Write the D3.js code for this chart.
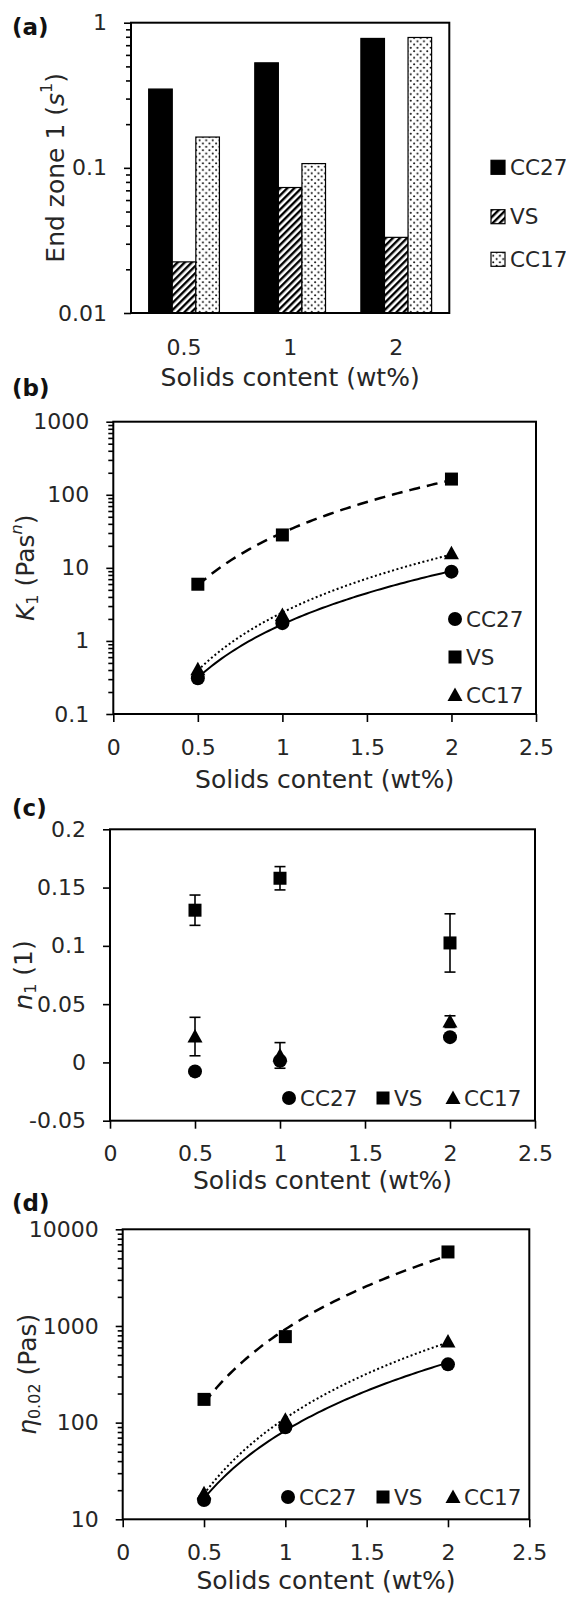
<!DOCTYPE html>
<html>
<head>
<meta charset="utf-8">
<script src="https://cdn.jsdelivr.net/npm/d3@7"></script>
<style>
  body { margin: 0; background: #fff; }
  svg { display: block; font-family: 'DejaVu Sans', sans-serif; }
</style>
</head>
<body>
<script>
// ---- data ----
var solids = [0.5, 1, 2];
var catLabels = ['0.5', '1', '2'];
var seriesNames = ['CC27', 'VS', 'CC17'];

// (a) end zone 1, s^-1
var endZoneCC27 = [0.349, 0.529, 0.779];
var endZoneVS = [0.0225, 0.0732, 0.0332];
var endZoneCC17 = [0.163, 0.107, 0.791];

// (b) K1
var k1CC27 = [0.309, 1.75, 8.87];
var k1VS = [5.97, 28.2, 164];
var k1CC17 = [0.41, 2.27, 15.8];

// (c) n1 with error bars
var n1CC27 = [-0.0077, 0.0014, 0.0217];
var n1VS = [0.1306, 0.158, 0.1025];
var n1VSErr = [0.013, 0.010, 0.025];
var n1CC17 = [0.0222, 0.006, 0.035];
var n1CC17Err = [0.0165, 0.011, 0.005];

// (d) eta 0.02
var etaCC27 = [15.8, 89.6, 401];
var etaVS = [174, 776, 5830];
var etaCC17 = [18.6, 107, 689];

// tick values
var endZoneTicks = [0.01, 0.1, 1];
var k1Ticks = [0.1, 1, 10, 100, 1000];
var n1Ticks = [-0.05, 0, 0.05, 0.1, 0.15, 0.2];
var etaTicks = [10, 100, 1000, 10000];
var xTicks = [0, 0.5, 1, 1.5, 2, 2.5];

var W = 566, H = 1598;
var tickFont = 22, titleFont = 25, legendFont = 21.5;
var textCol = '#262626';

var svg = d3.select('body').append('svg')
	.attr('width', W)
	.attr('height', H);

// patterns for the bars
var defs = svg.append('defs');
var hatch = defs.append('pattern')
	.attr('id', 'hatch')
	.attr('patternUnits', 'userSpaceOnUse')
	.attr('width', 5).attr('height', 5)
	.attr('patternTransform', 'rotate(45)');
hatch.append('rect').attr('width', 5).attr('height', 5).attr('fill', '#fff');
hatch.append('rect').attr('width', 2.4).attr('height', 5).attr('fill', '#000');

var dots = defs.append('pattern')
	.attr('id', 'dots')
	.attr('patternUnits', 'userSpaceOnUse')
	.attr('width', 6.6).attr('height', 6.6);
dots.append('rect').attr('width', 6.6).attr('height', 6.6).attr('fill', '#fff');
dots.append('circle').attr('cx', 1.6).attr('cy', 1.6).attr('r', 1).attr('fill', '#000');
dots.append('circle').attr('cx', 4.9).attr('cy', 4.9).attr('r', 1).attr('fill', '#000');

var seriesFill = { CC27: '#000', VS: 'url(#hatch)', CC17: 'url(#dots)' };

/* minor ticks of a log axis: 2..9 in every decade */
function logMinor(lo, hi) {
	var out = [];
	for (var e = Math.log10(lo); e < Math.log10(hi); e++) {
		for (var k = 2; k <= 9; k++) out.push(k * Math.pow(10, e));
	}
	return out;
}

function styleAxis(g) {
	g.select('.domain').remove();
	g.selectAll('line').attr('stroke', '#000').attr('stroke-width', 1.6);
	g.selectAll('text').attr('font-size', tickFont).attr('fill', textCol)
		.attr('font-family', "'DejaVu Sans', sans-serif");
}

function frame(p) {
	svg.append('rect')
		.attr('x', p.left).attr('y', p.top)
		.attr('width', p.right - p.left).attr('height', p.bottom - p.top)
		.attr('fill', 'none').attr('stroke', '#000').attr('stroke-width', 2);
}

function panelLabel(txt, y) {
	svg.append('text')
		.attr('x', 12).attr('y', y)
		.attr('dominant-baseline', 'central')
		.attr('font-size', 23).attr('font-weight', 'bold')
		.attr('fill', '#111')
		.text(txt);
}

function xTitle(p, y) {
	svg.append('text')
		.attr('x', (p.left + p.right) / 2).attr('y', y)
		.attr('text-anchor', 'middle').attr('dominant-baseline', 'central')
		.attr('font-size', titleFont).attr('fill', textCol)
		.text('Solids content (wt%)');
}

// rotated y title built from pieces: [text, italic, shift]
function yTitle(x, y, parts) {
	var t = svg.append('text')
		.attr('transform', 'translate(' + x + ',' + y + ') rotate(-90)')
		.attr('text-anchor', 'middle').attr('dominant-baseline', 'central')
		.attr('font-size', titleFont).attr('fill', textCol);
	var prevShift = 0;
	parts.forEach(function(pt) {
		var shift = pt.shift || 0;
		t.append('tspan')
			.attr('dy', (shift - prevShift) + 'px')
			.attr('font-style', pt.italic ? 'italic' : null)
			.attr('font-size', shift !== 0 ? 16 : null)
			.text(pt.t);
		prevShift = shift;
	});
}

function marker(g, shape, cx, cy) {
	if (shape === 'circle') {
		g.append('circle').attr('cx', cx).attr('cy', cy).attr('r', 7).attr('fill', '#000');
	} else if (shape === 'square') {
		g.append('rect').attr('x', cx - 6.5).attr('y', cy - 6.5)
			.attr('width', 13).attr('height', 13).attr('fill', '#000');
	} else {
		g.append('path')
			.attr('d', 'M' + cx + ',' + (cy - 7.5) + 'L' + (cx + 7.5) + ',' + (cy + 6) + 'L' + (cx - 7.5) + ',' + (cy + 6) + 'Z')
			.attr('fill', '#000');
	}
}

/* Excel style power trendline, fitted in log-log space */
function powerFit(xs, ys) {
	var lx = xs.map(Math.log), ly = ys.map(Math.log);
	var mx = d3.mean(lx), my = d3.mean(ly);
	var b = d3.sum(lx, function(v, i) { return (v - mx) * (ly[i] - my); }) /
		d3.sum(lx, function(v) { return (v - mx) * (v - mx); });
	var a = Math.exp(my - b * mx);
	return function(x) { return a * Math.pow(x, b); };
}

var lineStyles = {
	CC27: { dash: null, width: 2 },
	VS: { dash: '11,7', width: 2.5 },
	CC17: { dash: '2,2.5', width: 2 }
};
var shapes = { CC27: 'circle', VS: 'square', CC17: 'triangle' };

function xAxisBottom(p, x) {
	var g = svg.append('g')
		.attr('transform', 'translate(0,' + p.bottom + ')')
		.call(d3.axisBottom(x).tickValues(xTicks).tickSize(8).tickFormat(d3.format('')));
	styleAxis(g);
	g.selectAll('text').attr('y', 33).attr('dy', '0.35em');
}

function yAxisLog(p, y, majors, minors, fmt) {
	var gMinor = svg.append('g')
		.attr('transform', 'translate(' + p.left + ',0)')
		.call(d3.axisLeft(y).tickValues(minors).tickSize(5).tickFormat(''));
	styleAxis(gMinor);
	var g = svg.append('g')
		.attr('transform', 'translate(' + p.left + ',0)')
		.call(d3.axisLeft(y).tickValues(majors).tickSize(7).tickPadding(17).tickFormat(fmt));
	styleAxis(g);
}

function scatterPanel(p, x, y, data, withTrend) {
	if (withTrend) {
		seriesNames.forEach(function(s) {
			var f = powerFit(solids, data[s]);
			var pts = d3.range(0.5, 2.0001, 0.02);
			svg.append('path')
				.datum(pts)
				.attr('d', d3.line().x(function(d) { return x(d); }).y(function(d) { return y(f(d)); }))
				.attr('fill', 'none').attr('stroke', '#000')
				.attr('stroke-width', lineStyles[s].width)
				.attr('stroke-dasharray', lineStyles[s].dash);
		});
	}
	var g = svg.append('g');
	seriesNames.forEach(function(s) {
		data[s].forEach(function(v, i) {
			marker(g, shapes[s], x(solids[i]), y(v));
		});
	});
}

function rowLegend(y, xs) {
	var g = svg.append('g');
	seriesNames.forEach(function(s, i) {
		marker(g, shapes[s], xs[i], y);
		g.append('text')
			.attr('x', xs[i] + 11).attr('y', y)
			.attr('dominant-baseline', 'central')
			.attr('font-size', legendFont).attr('fill', textCol)
			.text(s);
	});
}

////////// (a) bar chart ////////
var pA = { left: 131, right: 449.3, top: 22.7, bottom: 313 };
var yA = d3.scaleLog().domain([0.01, 1]).range([pA.bottom, pA.top]);
var x0A = d3.scaleBand().domain(catLabels).range([pA.left, pA.right]);
var x1A = d3.scaleBand().domain(seriesNames).range([0, x0A.bandwidth()])
	.paddingInner(0).paddingOuter(0.75);
var endZone = { CC27: endZoneCC27, VS: endZoneVS, CC17: endZoneCC17 };

seriesNames.forEach(function(s) {
	svg.append('g').selectAll('rect')
		.data(endZone[s])
		.enter().append('rect')
		.attr('x', function(d, i) { return x0A(catLabels[i]) + x1A(s); })
		.attr('y', function(d) { return yA(d); })
		.attr('width', x1A.bandwidth())
		.attr('height', function(d) { return yA(0.01) - yA(d); })
		.attr('fill', seriesFill[s])
		.attr('stroke', '#000').attr('stroke-width', 1.2);
});
yAxisLog(pA, yA, endZoneTicks, logMinor(0.01, 1), d3.format(''));
frame(pA);
svg.append('g').selectAll('text')
	.data(catLabels).enter().append('text')
	.attr('x', function(d) { return x0A(d) + x0A.bandwidth() / 2; })
	.attr('y', pA.bottom + 34)
	.attr('text-anchor', 'middle').attr('dominant-baseline', 'central')
	.attr('font-size', tickFont).attr('fill', textCol)
	.text(function(d) { return d; });
xTitle(pA, pA.bottom + 64);
panelLabel('(a)', 27);
yTitle(55, (pA.top + pA.bottom) / 2, [
	{ t: 'End zone 1 (' }, { t: 's', italic: true }, { t: '1', shift: -9 }, { t: ')' }
]);
// legend (a)
var legA = svg.append('g');
[167.3, 216.7, 259.3].forEach(function(ly, i) {
	var s = seriesNames[i];
	legA.append('rect').attr('x', 491).attr('y', ly - 7).attr('width', 14).attr('height', 14)
		.attr('fill', seriesFill[s]).attr('stroke', '#000').attr('stroke-width', 1.2);
	legA.append('text').attr('x', 510).attr('y', ly)
		.attr('dominant-baseline', 'central')
		.attr('font-size', legendFont).attr('fill', textCol).text(s);
});

////////// (b) K1 ////////
var pB = { left: 113.3, right: 536, top: 421.7, bottom: 714 };
var xB = d3.scaleLinear().domain([0, 2.5]).range([pB.left, pB.right]);
var yB = d3.scaleLog().domain([0.1, 1000]).range([pB.bottom, pB.top]);
yAxisLog(pB, yB, k1Ticks, logMinor(0.1, 1000), d3.format(''));
xAxisBottom(pB, xB);
scatterPanel(pB, xB, yB, { CC27: k1CC27, VS: k1VS, CC17: k1CC17 }, true);
frame(pB);
xTitle(pB, pB.bottom + 65);
panelLabel('(b)', 388);
yTitle(25, (pB.top + pB.bottom) / 2, [
	{ t: 'K', italic: true }, { t: '1', shift: 7 }, { t: ' (Pas' }, { t: 'n', italic: true, shift: -9 }, { t: ')' }
]);
var legB = svg.append('g');
[619, 657, 695].forEach(function(ly, i) {
	var s = seriesNames[i];
	marker(legB, shapes[s], 455, ly);
	legB.append('text').attr('x', 466).attr('y', ly)
		.attr('dominant-baseline', 'central')
		.attr('font-size', legendFont).attr('fill', textCol).text(s);
});

////////// (c) n1 ////////
var pC = { left: 110, right: 535, top: 829.3, bottom: 1120.7 };
var xC = d3.scaleLinear().domain([0, 2.5]).range([pC.left, pC.right]);
var yC = d3.scaleLinear().domain([-0.05, 0.2]).range([pC.bottom, pC.top]);
var gYC = svg.append('g')
	.attr('transform', 'translate(' + pC.left + ',0)')
	.call(d3.axisLeft(yC).tickValues(n1Ticks).tickSize(7).tickPadding(17).tickFormat(d3.format('')));
styleAxis(gYC);
gYC.selectAll('text').text(function(d) { return String(d); });
xAxisBottom(pC, xC);
// error bars
var errs = [{ v: n1VS, e: n1VSErr }, { v: n1CC17, e: n1CC17Err }];
var gErr = svg.append('g').attr('stroke', '#000').attr('stroke-width', 1.6);
errs.forEach(function(ser) {
	ser.v.forEach(function(v, i) {
		var cx = xC(solids[i]);
		var y1 = yC(v + ser.e[i]), y2 = yC(v - ser.e[i]);
		gErr.append('line').attr('x1', cx).attr('x2', cx).attr('y1', y1).attr('y2', y2);
		gErr.append('line').attr('x1', cx - 5.5).attr('x2', cx + 5.5).attr('y1', y1).attr('y2', y1);
		gErr.append('line').attr('x1', cx - 5.5).attr('x2', cx + 5.5).attr('y1', y2).attr('y2', y2);
	});
});
scatterPanel(pC, xC, yC, { CC27: n1CC27, VS: n1VS, CC17: n1CC17 }, false);
frame(pC);
xTitle(pC, pC.bottom + 60);
panelLabel('(c)', 808);
yTitle(22.5, (pC.top + pC.bottom) / 2, [
	{ t: 'n', italic: true }, { t: '1', shift: 7 }, { t: ' (1)' }
]);
rowLegend(1098, [289, 383, 453]);

////////// (d) eta ////////
var pD = { left: 122.7, right: 529.3, top: 1229.3, bottom: 1519.3 };
var xD = d3.scaleLinear().domain([0, 2.5]).range([pD.left, pD.right]);
var yD = d3.scaleLog().domain([10, 10000]).range([pD.bottom, pD.top]);
yAxisLog(pD, yD, etaTicks, logMinor(10, 10000), d3.format(''));
xAxisBottom(pD, xD);
scatterPanel(pD, xD, yD, { CC27: etaCC27, VS: etaVS, CC17: etaCC17 }, true);
frame(pD);
xTitle(pD, pD.bottom + 61);
panelLabel('(d)', 1203);
yTitle(27, (pD.top + pD.bottom) / 2, [
	{ t: '\u03B7', italic: true }, { t: '0.02', shift: 7 }, { t: ' (Pas)' }
]);
rowLegend(1497, [288, 383, 453]);
</script>
</body>
</html>
